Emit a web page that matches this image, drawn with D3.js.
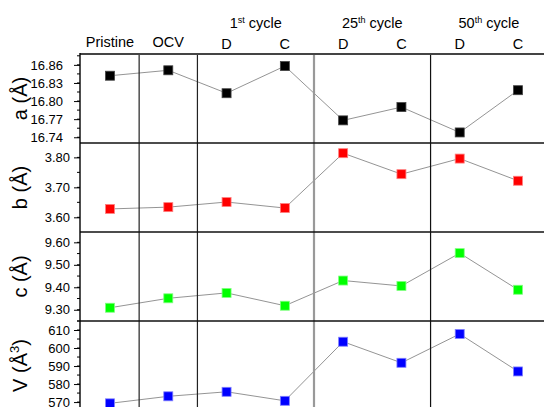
<!DOCTYPE html>
<html>
<head>
<meta charset="utf-8">
<script src="https://cdn.jsdelivr.net/npm/d3@7"></script>
<style>
  body { margin: 0; background: #fff; }
  svg { display: block; font-family: Arial, "Liberation Sans", sans-serif; }
</style>
</head>
<body>
<div id="chart"></div>
<script>
// 格子定数のデータ
const categories = ['Pristine', 'OCV', 'D', 'C', 'D', 'C', 'D', 'C'];
const cycleLabels = [
  { num: '1', sup: 'st', pair: [2, 3] },
  { num: '25', sup: 'th', pair: [4, 5] },
  { num: '50', sup: 'th', pair: [6, 7] }
];
const aValues = [16.842, 16.851, 16.813, 16.858, 16.768, 16.790, 16.748, 16.818];
const bValues = [3.628, 3.634, 3.651, 3.631, 3.814, 3.744, 3.796, 3.722];
const cValues = [9.309, 9.351, 9.375, 9.318, 9.430, 9.406, 9.552, 9.389];
const vValues = [569.3, 573.2, 575.7, 570.7, 603.5, 591.8, 607.8, 587.0];

const aTicks = [16.74, 16.77, 16.80, 16.83, 16.86];
const bTicks = [3.60, 3.70, 3.80];
const cTicks = [9.30, 9.40, 9.50, 9.60];
const vTicks = [570, 580, 590, 600, 610];

const panels = [
  { title: 'a (Å)', values: aValues, ticks: aTicks, minor: 0.015, domain: [16.7305, 16.878], color: '#000000', stroke: '#444', fmt: '.2f', labelX: 63 },
  { title: 'b (Å)', values: bValues, ticks: bTicks, minor: 0.05, domain: [3.551, 3.848], color: '#ff0000', stroke: '#ff8080', fmt: '.2f', labelX: 70 },
  { title: 'c (Å)', values: cValues, ticks: cTicks, minor: 0.05, domain: [9.250, 9.646], color: '#00ff00', stroke: '#80ff80', fmt: '.2f', labelX: 70 },
  { title: 'V (Å', sup: '3', values: vValues, ticks: vTicks, minor: 5, domain: [565.6, 615], color: '#0000ff', stroke: '#8080ff', fmt: 'd', labelX: 70 }
];

const width = 544, height = 407;
const axisX = 80;
const panelTops = [54, 143, 232, 321];
const panelH = 89;

const svg = d3.select('#chart').append('svg')
  .attr('width', width)
  .attr('height', height);

const x = d3.scaleLinear().domain([0, 7]).range([110, 518]);

// ヘッダー
const header = svg.append('g').attr('font-size', 14.5).attr('fill', '#000').attr('text-anchor', 'middle');
categories.forEach((c, i) => {
  header.append('text')
    .attr('x', x(i))
    .attr('y', i < 2 ? 47 : 49)
    .text(c);
});
cycleLabels.forEach(d => {
  const t = header.append('text')
    .attr('x', (x(d.pair[0]) + x(d.pair[1])) / 2)
    .attr('y', 28);
  t.append('tspan').text(d.num);
  t.append('tspan').attr('font-size', 9).attr('dy', -5).text(d.sup);
  t.append('tspan').attr('dy', 5).text(' cycle');
});

// 各パネル
panels.forEach((p, k) => {
  const top = panelTops[k];
  const y = d3.scaleLinear().domain(p.domain).range([top + panelH, top]);
  const g = svg.append('g');

  // 副目盛り
  const minorTicks = d3.range(Math.ceil(p.domain[0] / p.minor), Math.floor(p.domain[1] / p.minor) + 1)
    .map(i => i * p.minor);
  g.selectAll('line.minor')
    .data(minorTicks)
    .enter().append('line')
    .attr('x1', axisX - 3).attr('x2', axisX)
    .attr('y1', d => y(d)).attr('y2', d => y(d))
    .attr('stroke', '#000').attr('stroke-width', 1);

  // 主目盛り
  const axis = d3.axisLeft(y)
    .tickValues(p.ticks)
    .tickSize(6)
    .tickPadding(axisX - p.labelX - 6)
    .tickFormat(d3.format(p.fmt));
  const ax = g.append('g')
    .attr('transform', `translate(${axisX},0)`)
    .call(axis);
  ax.select('.domain').remove();
  ax.selectAll('text').attr('font-size', 13).attr('font-family', 'Arial, "Liberation Sans", sans-serif').attr('fill', '#000');
  ax.selectAll('line').attr('stroke', '#000');

  // 軸タイトル
  const cy = top + panelH / 2;
  const title = g.append('text')
    .attr('transform', `translate(27,${cy}) rotate(-90)`)
    .attr('text-anchor', 'middle')
    .attr('font-size', 20)
    .attr('fill', '#000');
  title.append('tspan').text(p.title);
  if (p.sup) {
    title.append('tspan').attr('font-size', 13).attr('dy', -8).text(p.sup);
    title.append('tspan').attr('dy', 8).text(')');
  }

  // 接続線
  const line = d3.line().x((d, i) => x(i)).y(d => y(d));
  g.append('path')
    .datum(p.values)
    .attr('d', line)
    .attr('fill', 'none')
    .attr('stroke', '#888')
    .attr('stroke-width', 0.9);

  // マーカー
  const s = 9;
  g.selectAll('rect.pt')
    .data(p.values)
    .enter().append('rect')
    .attr('x', (d, i) => x(i) - s / 2)
    .attr('y', d => y(d) - s / 2)
    .attr('width', s)
    .attr('height', s)
    .attr('fill', p.color)
    .attr('stroke', p.stroke)
    .attr('stroke-width', 0.8);
});

// 区切り線（縦）
const seps = [
  { pos: 0.5, color: '#222', w: 1.2 },
  { pos: 1.5, color: '#222', w: 1.2 },
  { pos: 3.5, color: '#999', w: 2.2 },
  { pos: 5.5, color: '#111', w: 1.2 }
];
svg.append('g').selectAll('line')
  .data(seps)
  .enter().append('line')
  .attr('x1', d => x(d.pos)).attr('x2', d => x(d.pos))
  .attr('y1', panelTops[0]).attr('y2', height)
  .attr('stroke', d => d.color)
  .attr('stroke-width', d => d.w);

// 区切り線（横）とフレーム
svg.append('line')
  .attr('x1', axisX).attr('x2', width)
  .attr('y1', panelTops[0]).attr('y2', panelTops[0])
  .attr('stroke', '#444').attr('stroke-width', 2.2);
svg.append('g').selectAll('line')
  .data(panelTops.slice(1))
  .enter().append('line')
  .attr('x1', axisX).attr('x2', width)
  .attr('y1', d => d).attr('y2', d => d)
  .attr('stroke', '#111').attr('stroke-width', 1.6);
svg.append('line')
  .attr('x1', axisX).attr('x2', axisX)
  .attr('y1', panelTops[0] - 1).attr('y2', height)
  .attr('stroke', '#000').attr('stroke-width', 1.4);
</script>
</body>
</html>
